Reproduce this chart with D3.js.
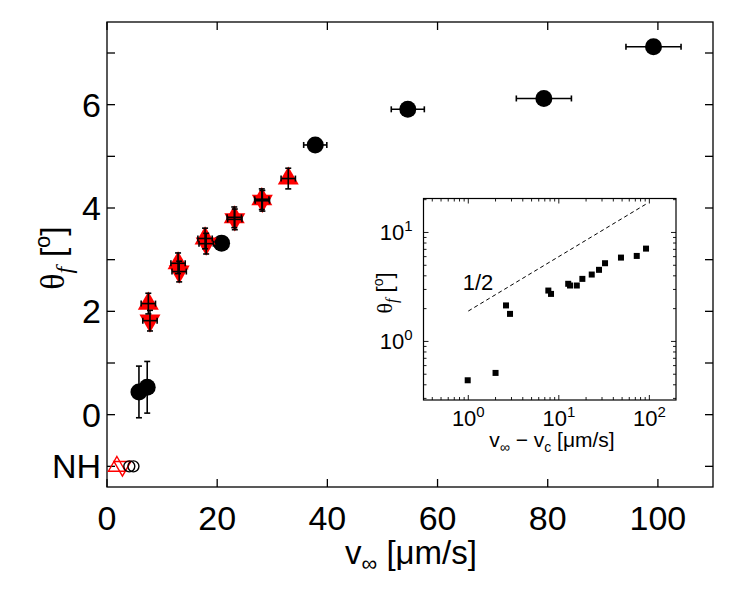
<!DOCTYPE html>
<html><head><meta charset="utf-8">
<script src="https://cdn.jsdelivr.net/npm/d3@7"></script>
<style>body{margin:0;background:#fff}</style>
</head><body><svg id="c" width="747" height="591" xmlns="http://www.w3.org/2000/svg"></svg>
<script>
// ---- data ----
const circX = [5.8, 7.3, 20.8, 37.8, 54.6, 79.3, 99.2];
const circY = [0.44, 0.53, 3.32, 5.22, 5.91, 6.12, 7.12];
const circXErr = [0, 0, 0, 2.1, 3.0, 5.0, 5.0];
const circYErr = [0.5, 0.5, 0, 0, 0, 0, 0];
const upX = [7.5, 12.9, 17.8, 23.1, 28.1, 32.9];
const upY = [2.15, 2.93, 3.41, 3.82, 4.17, 4.57];
const downX = [7.8, 13.1, 18.0, 23.2, 28.2];
const downY = [1.82, 2.77, 3.31, 3.78, 4.14];
const redXErr = 1.3, redYErr = 0.2;
const nhUpX = [1.8], nhDownX = [2.8], nhCircX = [4.05, 4.8];
const nhLevel = -1;
const xTicks = [0, 20, 40, 60, 80, 100];
const yTicks = [-1, 0, 1, 2, 3, 4, 5, 6, 7];
const yTickLabels = ["NH", "0", "", "2", "", "4", "", "6", ""];
const insX = [0.985, 2.0, 2.61, 2.89, 7.66, 8.2, 12.7, 13.3, 15.8, 18.2, 23.1, 27.8, 32.4, 48.6, 72.6, 91.9];
const insY = [0.44, 0.514, 2.14, 1.79, 2.93, 2.73, 3.38, 3.26, 3.26, 3.75, 4.11, 4.54, 5.22, 5.88, 6.09, 7.11];
const slopeX = [1.0, 92];
const slopeCoef = 1.9, slopeExp = 0.5;

// ---- layout ----
const svg = d3.select("#c");
const FONT = "'Liberation Sans', Arial, Helvetica, sans-serif";
const SERIF = "'Liberation Serif', 'DejaVu Serif', serif";
const M = {l:107, r:713, t:22, b:487};
const x = d3.scaleLinear().domain([0,110]).range([M.l, M.r]);
const y = d3.scaleLinear().domain([-1.4,7.6]).range([M.b, M.t]);

svg.append("rect").attr("width",747).attr("height",591).attr("fill","#fff");

// main axes box and ticks
const ax = svg.append("g").attr("stroke","#000").attr("stroke-width",1.3).attr("fill","none");
ax.append("rect").attr("x",M.l).attr("y",M.t).attr("width",M.r-M.l).attr("height",M.b-M.t);
const TL = 8;
xTicks.forEach(v=>{
  ax.append("line").attr("x1",x(v)).attr("x2",x(v)).attr("y1",M.b).attr("y2",M.b-TL);
  ax.append("line").attr("x1",x(v)).attr("x2",x(v)).attr("y1",M.t).attr("y2",M.t+TL);
});
yTicks.forEach(v=>{
  ax.append("line").attr("x1",M.l).attr("x2",M.l+TL).attr("y1",y(v)).attr("y2",y(v));
  ax.append("line").attr("x1",M.r).attr("x2",M.r-TL).attr("y1",y(v)).attr("y2",y(v));
});
const tl = svg.append("g").attr("font-family",FONT).attr("font-size",34).attr("fill","#000");
xTicks.forEach(v=>{
  tl.append("text").attr("x",x(v)).attr("y",M.b+43).attr("text-anchor","middle").text(v);
});
yTicks.forEach((v,i)=>{
  if(!yTickLabels[i]) return;
  tl.append("text").attr("x",M.l-6).attr("y",y(v)+12).attr("text-anchor","end").text(yTickLabels[i]);
});

// axis labels
const xl = svg.append("text").attr("font-family",FONT).attr("font-size",33)
  .attr("x",411).attr("y",564).attr("text-anchor","middle");
xl.append("tspan").text("v");
xl.append("tspan").attr("font-size",22).attr("dy",7).text("\u221E");
xl.append("tspan").attr("dy",-7).text("  [\u03BCm/s]");

const yl = svg.append("text").attr("font-family",FONT).attr("font-size",34)
  .attr("transform","translate(64,258) rotate(-90)").attr("text-anchor","middle");
yl.append("tspan").attr("font-family",SERIF).text("\u03B8");
yl.append("tspan").attr("font-family",SERIF).attr("font-style","italic").attr("font-size",24).attr("dy",8).text("f");
yl.append("tspan").attr("dy",-8).text(" [");
yl.append("tspan").attr("font-size",22).attr("dy",-14).text("o");
yl.append("tspan").attr("dy",14).text("]");

// ---- markers ----
function triPath(cx, cy, s, up){
  const h = s*Math.sqrt(3)/2;
  if(up) return `M${cx},${cy-2*h/3}L${cx+s/2},${cy+h/3}L${cx-s/2},${cy+h/3}Z`;
  return `M${cx},${cy+2*h/3}L${cx+s/2},${cy-h/3}L${cx-s/2},${cy-h/3}Z`;
}
const mk = svg.append("g");
// NH markers
nhUpX.forEach(v=> mk.append("path").attr("d",triPath(x(v),y(nhLevel),17,true)).attr("fill","none").attr("stroke","#f00").attr("stroke-width",1.4));
nhDownX.forEach(v=> mk.append("path").attr("d",triPath(x(v),y(nhLevel),17,false)).attr("fill","none").attr("stroke","#f00").attr("stroke-width",1.4));
nhCircX.forEach(v=> mk.append("circle").attr("cx",x(v)).attr("cy",y(nhLevel)).attr("r",5.5).attr("fill","none").attr("stroke","#000").attr("stroke-width",1.4));

// error bar helper
const eb = svg.append("g").attr("stroke","#000").attr("stroke-width",1.6).attr("fill","none");
function errBar(g, cx, cy, xe, ye, cap){
  if(ye>0){
    g.append("line").attr("x1",x(cx)).attr("x2",x(cx)).attr("y1",y(cy-ye)).attr("y2",y(cy+ye));
    [cy-ye, cy+ye].forEach(v=> g.append("line").attr("x1",x(cx)-cap).attr("x2",x(cx)+cap).attr("y1",y(v)).attr("y2",y(v)));
  }
  if(xe>0){
    g.append("line").attr("x1",x(cx-xe)).attr("x2",x(cx+xe)).attr("y1",y(cy)).attr("y2",y(cy));
    [cx-xe, cx+xe].forEach(v=> g.append("line").attr("x1",x(v)).attr("x2",x(v)).attr("y1",y(cy)-cap).attr("y2",y(cy)+cap));
  }
}
// circles
circX.forEach((v,i)=>{
  errBar(mk.append("g").attr("stroke","#000").attr("stroke-width",1.6), v, circY[i], circXErr[i], circYErr[i], 3);
  mk.append("circle").attr("cx",x(v)).attr("cy",y(circY[i])).attr("r",8.5).attr("fill","#000");
});
// red triangles
upX.forEach((v,i)=> mk.append("path").attr("d",triPath(x(v),y(upY[i]),21,true)).attr("fill","#f00"));
downX.forEach((v,i)=> mk.append("path").attr("d",triPath(x(v),y(downY[i]),21,false)).attr("fill","#f00"));
upX.forEach((v,i)=> errBar(eb, v, upY[i], redXErr, redYErr, 3));
downX.forEach((v,i)=> errBar(eb, v, downY[i], redXErr, redYErr, 3));

// ---- inset ----
const I = {l:423.5, r:676, t:198.5, b:400};
const ix = d3.scaleLog().domain([0.32,197]).range([I.l, I.r]);
const iy = d3.scaleLog().domain([0.29,20.5]).range([I.b, I.t]);
const ins = svg.append("g");
ins.append("rect").attr("x",I.l).attr("y",I.t).attr("width",I.r-I.l).attr("height",I.b-I.t)
  .attr("fill","#fff").attr("stroke","#000").attr("stroke-width",1.2);
const it = ins.append("g").attr("stroke","#000").attr("stroke-width",0.9);
function logTicks(dom){
  const out=[];
  for(let e=-2;e<=3;e++) for(let m=1;m<=9;m++){
    const v=m*Math.pow(10,e);
    if(v>=dom[0]*0.999 && v<=dom[1]*1.001) out.push({v, major:m===1});
  }
  return out;
}
logTicks(ix.domain()).forEach(t=>{
  const L = t.major?5:3;
  it.append("line").attr("x1",ix(t.v)).attr("x2",ix(t.v)).attr("y1",I.b).attr("y2",I.b-L);
  it.append("line").attr("x1",ix(t.v)).attr("x2",ix(t.v)).attr("y1",I.t).attr("y2",I.t+L);
});
logTicks(iy.domain()).forEach(t=>{
  const L = t.major?5:3;
  it.append("line").attr("y1",iy(t.v)).attr("y2",iy(t.v)).attr("x1",I.l).attr("x2",I.l+L);
  it.append("line").attr("y1",iy(t.v)).attr("y2",iy(t.v)).attr("x1",I.r).attr("x2",I.r-L);
});
const itl = ins.append("g").attr("font-family",FONT).attr("font-size",22);
[0,1,2].forEach(e=>{
  const t = itl.append("text").attr("x",ix(Math.pow(10,e))).attr("y",I.b+26).attr("text-anchor","middle");
  t.append("tspan").text("10");
  t.append("tspan").attr("font-size",15).attr("dy",-9).text(e);
});
[0,1].forEach(e=>{
  const t = itl.append("text").attr("x",I.l-11).attr("y",iy(Math.pow(10,e))+8).attr("text-anchor","end");
  t.append("tspan").text("10");
  t.append("tspan").attr("font-size",15).attr("dy",-9).text(e);
});
// inset labels
const ixl = ins.append("text").attr("font-family",FONT).attr("font-size",21)
  .attr("x",552).attr("y",447).attr("text-anchor","middle");
ixl.append("tspan").text("v");
ixl.append("tspan").attr("font-size",14).attr("dy",5).text("\u221E");
ixl.append("tspan").attr("dy",-5).text(" \u2212 v");
ixl.append("tspan").attr("font-size",14).attr("dy",5).text("c");
ixl.append("tspan").attr("dy",-5).text("  [\u03BCm/s]");
const iyl = ins.append("text").attr("font-family",FONT).attr("font-size",22)
  .attr("transform","translate(392,293) rotate(-90)").attr("text-anchor","middle");
iyl.append("tspan").attr("font-family",SERIF).text("\u03B8");
iyl.append("tspan").attr("font-family",SERIF).attr("font-style","italic").attr("font-size",16).attr("dy",5).text("f");
iyl.append("tspan").attr("dy",-5).text(" [");
iyl.append("tspan").attr("font-size",14).attr("dy",-9).text("o");
iyl.append("tspan").attr("dy",9).text("]");
// slope line
ins.append("path").attr("d", d3.line()(slopeX.map(v=>[ix(v), iy(slopeCoef*Math.pow(v,slopeExp))])))
  .attr("stroke","#000").attr("stroke-width",1).attr("stroke-dasharray","4,3").attr("fill","none");
ins.append("text").attr("font-family",FONT).attr("font-size",22).attr("x",478).attr("y",290)
  .attr("text-anchor","middle").text("1/2");
// squares
insX.forEach((v,i)=> ins.append("rect").attr("x",ix(v)-3).attr("y",iy(insY[i])-3).attr("width",6).attr("height",6).attr("fill","#000"));
</script></body></html>
